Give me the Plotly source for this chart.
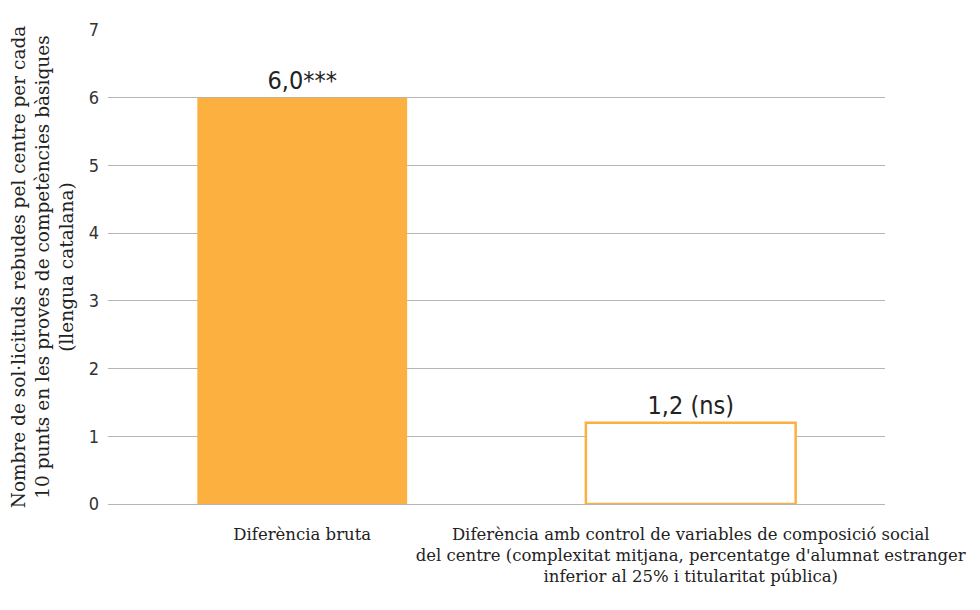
import plotly.graph_objects as go

categories = [
    "Diferència bruta",
    "Diferència amb control de variables de composició social<br>del centre (complexitat mitjana, percentatge d'alumnat estranger<br>inferior al 25% i titularitat pública)",
]
values = [6.0, 1.2]
significance = ["***", " (ns)"]
y_ticks = [0, 1, 2, 3, 4, 5, 6, 7]
y_title = "Nombre de sol·licituds rebudes pel centre per cada<br>10 punts en les proves de competències bàsiques<br>(llengua catalana)"

ORANGE = "#FBB040"
labels = [f"{v:.1f}".replace(".", ",") + s for v, s in zip(values, significance)]

fig = go.Figure()
fig.add_trace(go.Bar(
    x=categories,
    y=values,
    marker=dict(color=[ORANGE, "white"], line=dict(color=ORANGE, width=[0, 2.5])),
    text=labels,
    textposition="outside",
    textfont=dict(family="DejaVu Sans Condensed", size=25, color="#222222"),
    cliponaxis=False,
    width=0.54,
))

fig.update_layout(
    width=980, height=610,
    margin=dict(l=100, r=103, t=22, b=114),
    paper_bgcolor="white", plot_bgcolor="white",
    showlegend=False,
    font=dict(family="DejaVu Serif", color="#222222"),
)
fig.update_yaxes(
    range=[0, 7], tickvals=y_ticks,
    showgrid=True, gridcolor="#b5b5b5", gridwidth=1,
    zeroline=True, zerolinecolor="#b5b5b5", zerolinewidth=1,
    showline=False, ticks="",
    tickfont=dict(family="DejaVu Sans Condensed", size=18, color="#333333"),
    ticklabelstandoff=8,
    automargin=False,
    title=dict(text=y_title, font=dict(family="DejaVu Serif", size=18.5, color="#222222"), standoff=12),
)
fig.update_xaxes(
    showline=False, ticks="", showgrid=False,
    tickfont=dict(family="DejaVu Serif", size=16.5, color="#222222"),
    tickangle=0,
    ticklabelstandoff=18,
    automargin=False,
)

fig.write_html("out.html")
